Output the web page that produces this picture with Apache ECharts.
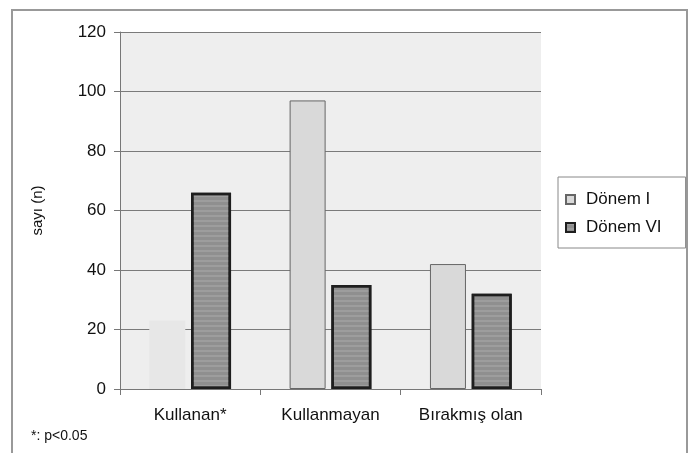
<!DOCTYPE html>
<html><head><meta charset="utf-8">
<script src="https://cdn.jsdelivr.net/npm/echarts@6/dist/echarts.min.js"></script>
<style>html,body{margin:0;padding:0;background:#fff}#c{width:691px;height:453px}</style>
</head><body><div id="c"></div>
<script>
const categories = ['Kullanan*', 'Kullanmayan', 'Bırakmış olan'];
const donemI = [23, 97, 42];
const donemVI = [66, 35, 32];
const yTicks = [0, 20, 40, 60, 80, 100, 120];
const seriesNames = ['Dönem I', 'Dönem VI'];
const footnote = '*: p<0.05';
const yTitle = 'sayı (n)';

const font = 'Liberation Sans, Arial, sans-serif';
const chart = echarts.init(document.getElementById('c'));
chart.setOption({
  animation: false,
  backgroundColor: '#fff',
  textStyle: { fontFamily: font },
  grid: { left: 120, right: 150, top: 32, bottom: 64, show: true, backgroundColor: '#eeeeee', borderWidth: 0 },
  legend: {
    orient: 'vertical', left: 558, top: 177,
    data: seriesNames,
    icon: 'rect', itemWidth: 9, itemHeight: 9, itemGap: 11,
    padding: [14, 24, 12, 7],
    borderColor: '#888', borderWidth: 1,
    textStyle: { fontSize: 17, color: '#111', fontFamily: font, padding: [0, 0, 0, 6] }
  },
  xAxis: {
    type: 'category', data: categories,
    axisLine: { lineStyle: { color: '#777', width: 1 } },
    axisTick: { show: true, length: 6, lineStyle: { color: '#777' } },
    axisLabel: { fontSize: 17, color: '#111', margin: 18, fontFamily: font }
  },
  yAxis: {
    type: 'value', min: yTicks[0], max: yTicks[yTicks.length - 1], interval: 20,
    name: yTitle, nameLocation: 'middle', nameRotate: 90, nameGap: 75,
    nameTextStyle: { fontSize: 15, color: '#111', fontFamily: font },
    axisLine: { show: true, lineStyle: { color: '#777' } },
    axisTick: { show: true, length: 6, lineStyle: { color: '#777' } },
    axisLabel: { fontSize: 17, color: '#111', margin: 14, fontFamily: font },
    splitLine: { lineStyle: { color: '#7a7a7a', width: 1.2 }, interval: function (i, v) { return v !== 0 && v !== 120; } }
  },
  series: [
    {
      name: seriesNames[0], type: 'bar', barWidth: 36, barGap: '16%',
      itemStyle: { color: '#d9d9d9', borderColor: '#666', borderWidth: 1 },
      data: donemI.map(function (v, i) {
        return i === 0 ? { value: v, itemStyle: { color: '#e7e7e7', borderWidth: 0 } } : v;
      })
    },
    {
      name: seriesNames[1], type: 'bar', barWidth: 40,
      itemStyle: {
        color: '#8f8f8f', borderColor: '#1e1e1e', borderWidth: 2.5,
        decal: { symbol: 'rect', dashArrayX: [1, 0], dashArrayY: [2, 3], color: 'rgba(255,255,255,0.12)', rotation: 0 }
      },
      data: donemVI
    }
  ],
  graphic: [
    { type: 'rect', shape: { x: 12, y: 10, width: 675, height: 460 }, style: { fill: 'none', stroke: '#999', lineWidth: 2 }, silent: true },
    { type: 'text', left: 31, top: 429, style: { text: footnote, fontSize: 14, fill: '#111', fontFamily: font } }
  ]
});
</script></body></html>
